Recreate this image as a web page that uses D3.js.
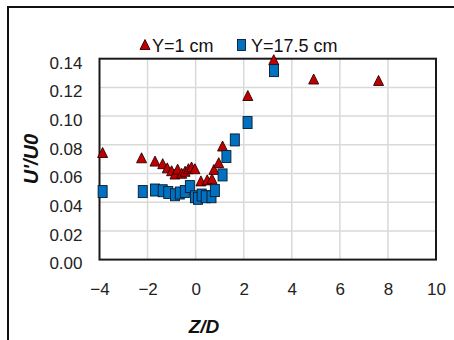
<!DOCTYPE html>
<html><head><meta charset="utf-8">
<script src="https://cdn.jsdelivr.net/npm/d3@7"></script>
<style>body{margin:0;background:#fff}svg{display:block}</style>
</head><body><svg id="chart" width="454" height="340"></svg>
<script>
// Axis ticks
const xTicks = [-4, -2, 0, 2, 4, 6, 8, 10];
const yTicks = [0, 0.02, 0.04, 0.06, 0.08, 0.10, 0.12, 0.14];
const seriesNames = ["Y=1 cm", "Y=17.5 cm"];

// Y = 1 cm profile
const zdNear = [-3.87, -2.25, -1.69, -1.37, -1.18, -1.0, -0.86, -0.75, -0.58, -0.44, -0.3, -0.17, -0.03, 0.22, 0.48, 0.68, 0.76, 0.96, 1.12, 2.17, 3.25, 4.91, 7.61];
const uNear  = [0.0743, 0.0706, 0.0683, 0.0665, 0.0636, 0.0616, 0.0593, 0.0627, 0.0598, 0.0612, 0.0630, 0.0642, 0.0630, 0.0545, 0.0552, 0.0560, 0.0625, 0.0672, 0.0788, 0.114, 0.139, 0.1255, 0.1245];

// Y = 17.5 cm profile
const zdFar = [-3.87, -2.2, -1.69, -1.37, -1.14, -0.86, -0.66, -0.45, -0.24, -0.03, 0.10, 0.25, 0.42, 0.66, 0.80, 1.12, 1.28, 1.63, 2.16, 3.26];
const uFar  = [0.0474, 0.0474, 0.0485, 0.0480, 0.0468, 0.0452, 0.0464, 0.0474, 0.0509, 0.0438, 0.0427, 0.0450, 0.0438, 0.0438, 0.0481, 0.0590, 0.0718, 0.0834, 0.0955, 0.1317];

const svg = d3.select("#chart");
const font = "'Liberation Sans Narrow', 'Arial Narrow', 'Liberation Sans', sans-serif";
const L = 99.5, R = 436, T = 58.7, B = 259.6;
const x = d3.scaleLinear().domain([-4, 10]).range([L, R]);
const y = d3.scaleLinear().domain([0, 0.14]).range([B, T]);

// outer frame
svg.append("path").attr("d", "M8,340 V7 H454").attr("fill", "none").attr("stroke", "#111").attr("stroke-width", 2);

// gridlines
const grid = svg.append("g").attr("stroke", "#d9d9d9").attr("stroke-width", 1.5);
grid.selectAll(".gx").data(xTicks.slice(1, -1)).join("line")
  .attr("x1", d => x(d)).attr("x2", d => x(d)).attr("y1", T).attr("y2", B);
grid.selectAll(".gy").data(yTicks.slice(1, -1)).join("line")
  .attr("y1", d => y(d)).attr("y2", d => y(d)).attr("x1", L).attr("x2", R);

// plot border
svg.append("rect").attr("x", L).attr("y", T).attr("width", R - L).attr("height", B - T)
  .attr("fill", "none").attr("stroke", "#1a1a1a").attr("stroke-width", 2);

// axes (labels only)
const yAxis = d3.axisLeft(y).tickValues(yTicks).tickFormat(d3.format(".2f")).tickSize(0).tickPadding(17);
const gy = svg.append("g").attr("transform", `translate(${L},0)`).call(yAxis);
gy.select(".domain").remove();
gy.selectAll("text").attr("font-family", font).attr("font-size", 17).attr("fill", "#222").attr("dy", "0.55em");

const xAxis = d3.axisBottom(x).tickValues(xTicks).tickFormat(d3.format("d")).tickSize(0).tickPadding(23);
const gx = svg.append("g").attr("transform", `translate(0,${B})`).call(xAxis);
gx.select(".domain").remove();
gx.selectAll("text").attr("font-family", font).attr("font-size", 17).attr("fill", "#222");

// axis titles
svg.append("text").attr("x", 204).attr("y", 333).attr("text-anchor", "middle")
  .attr("font-family", font).attr("font-size", 19).attr("font-weight", "bold").attr("font-style", "italic")
  .attr("fill", "#111").text("Z/D");
svg.append("text").attr("transform", "translate(38,159) rotate(-90)").attr("text-anchor", "middle")
  .attr("font-family", font).attr("font-size", 20).attr("font-weight", "bold").attr("font-style", "italic")
  .attr("fill", "#111").text("U'/U0");

const tri = (cx, cy) => `M${cx},${cy - 5.5} L${cx + 5},${cy + 4.5} L${cx - 5},${cy + 4.5} Z`;
const red = "#c00000", blue = "#0070c0";

// markers
const near = zdNear.map((z, i) => ({ z, u: uNear[i] }));
const far = zdFar.map((z, i) => ({ z, u: uFar[i] }));
svg.append("g").selectAll("path").data(near).join("path")
  .attr("d", d => tri(x(d.z), y(d.u)))
  .attr("fill", red).attr("stroke", "#2a0000").attr("stroke-width", 0.9);
svg.append("g").selectAll("rect").data(far).join("rect")
  .attr("x", d => x(d.z) - 4.5).attr("y", d => y(d.u) - 6).attr("width", 9).attr("height", 12)
  .attr("fill", blue).attr("stroke", "#0a1a2a").attr("stroke-width", 0.9);

// legend
const lg = svg.append("g");
lg.append("path").attr("d", tri(145, 45)).attr("fill", red).attr("stroke", "#2a0000").attr("stroke-width", 0.9);
lg.append("text").attr("x", 152).attr("y", 52).attr("font-family", font).attr("font-size", 18).attr("fill", "#111").text(seriesNames[0]);
lg.append("rect").attr("x", 237.5).attr("y", 39.5).attr("width", 8).attr("height", 11).attr("fill", blue).attr("stroke", "#0a1a2a").attr("stroke-width", 0.9);
lg.append("text").attr("x", 251).attr("y", 52).attr("font-family", font).attr("font-size", 18).attr("fill", "#111").text(seriesNames[1]);
</script>
</body></html>
